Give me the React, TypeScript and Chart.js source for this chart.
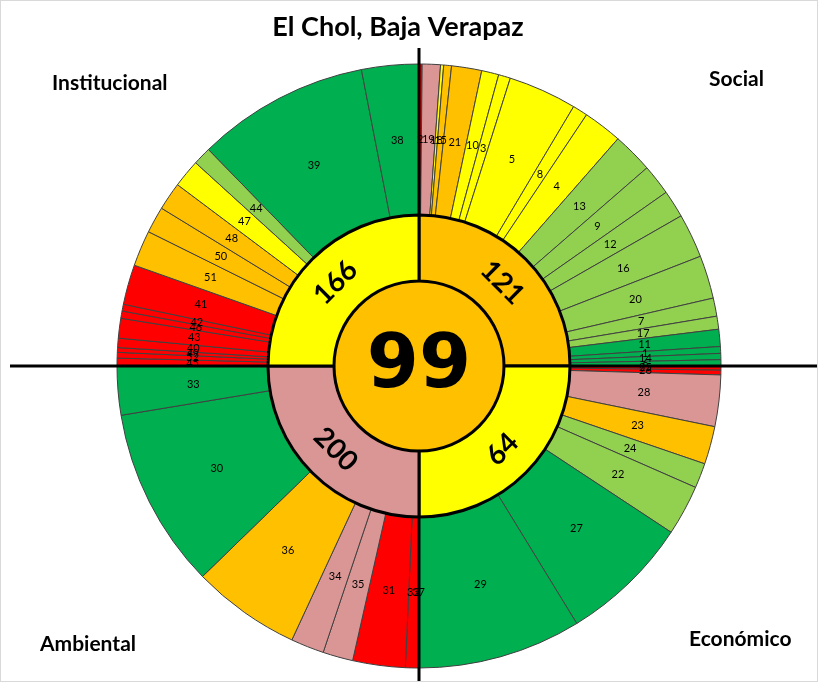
import React, { useEffect, useRef } from "react";
import { Chart, registerables } from "chart.js";

Chart.register(...registerables);

const TITLE = "El Chol, Baja Verapaz";
const OVERALL_SCORE = 99;

// Dimensions (clockwise from 12 o'clock)
const dimensionNames = ["Social", "Económico", "Ambiental", "Institucional"];
const dimensionScores = [121, 64, 200, 166];
const dimensionStatus = ["naranja", "amarillo", "rosado", "amarillo"];
const overallStatus = "naranja";

// Social indicators (angular share, degrees)
const socialIds = ["2", "19", "18", "15", "21", "10", "3", "5", "8", "4", "13", "9", "12", "16", "20", "7", "17", "11", "1", "14", "6"];
const socialSpans = [0.6, 3.5, 0.6, 1.5, 5.8, 3.3, 2.3, 13.2, 2.9, 7.5, 7.8, 5.9, 5.3, 8.5, 8.3, 3.5, 2.5, 3.3, 1.3, 1.2, 1.2];
const socialStatus = ["rojo", "rosado", "amarillo", "naranja", "naranja", "amarillo", "amarillo", "amarillo", "amarillo", "amarillo", "verdeClaro", "verdeClaro", "verdeClaro", "verdeClaro", "verdeClaro", "verdeClaro", "verdeClaro", "verde", "verde", "verde", "verde"];

// Económico indicators
const economicoIds = ["25", "26", "28", "23", "24", "22", "27", "29"];
const economicoSpans = [0.8, 0.9, 9.9, 7.3, 4.8, 9.7, 25.1, 31.5];
const economicoStatus = ["rojo", "rojo", "rosado", "naranja", "verdeClaro", "verdeClaro", "verde", "verde"];

// Ambiental indicators
const ambientalIds = ["37", "32", "31", "35", "34", "36", "30", "33"];
const ambientalSpans = [0.2, 2.4, 10.1, 5.8, 6.4, 20.9, 34.8, 9.4];
const ambientalStatus = ["rojo", "rojo", "rojo", "rosado", "rosado", "naranja", "verde", "verde"];

// Institucional indicators
const institucionalIds = ["45", "52", "49", "40", "43", "46", "42", "41", "51", "50", "48", "47", "44", "39", "38"];
const institucionalSpans = [1.5, 1.1, 0.9, 1.8, 3.8, 1.4, 1.3, 7.7, 6.9, 5.1, 5.4, 5.4, 3.5, 33.2, 11.0];
const institucionalStatus = ["rojo", "rojo", "rojo", "rojo", "rojo", "rojo", "rojo", "rojo", "naranja", "naranja", "naranja", "amarillo", "verdeClaro", "verde", "verde"];

const STATUS_COLORS: Record<string, string> = {
  rojo: "#FF0000",
  rosado: "#DA9694",
  naranja: "#FFC000",
  amarillo: "#FFFF00",
  verdeClaro: "#92D050",
  verde: "#00B050",
};

const FONT = "Lato, 'Open Sans', sans-serif";

export default function App() {
  const ref = useRef<HTMLCanvasElement>(null);

  useEffect(() => {
    document.body.style.margin = "0";
    const canvas = ref.current;
    if (!canvas) return;

    const outerIds = [...socialIds, ...economicoIds, ...ambientalIds, ...institucionalIds];
    const outerSpans = [...socialSpans, ...economicoSpans, ...ambientalSpans, ...institucionalSpans];
    const outerColors = [...socialStatus, ...economicoStatus, ...ambientalStatus, ...institucionalStatus].map((s) => STATUS_COLORS[s]);
    const sum = (a: number[]) => a.reduce((x, y) => x + y, 0);
    const dimensionSpans = [sum(socialSpans), sum(economicoSpans), sum(ambientalSpans), sum(institucionalSpans)];

    const overlay = {
      id: "overlay",
      afterDatasetsDraw(chart: any) {
        const ctx: CanvasRenderingContext2D = chart.ctx;
        const outerMeta = chart.getDatasetMeta(0);
        const midMeta = chart.getDatasetMeta(1);
        const centerMeta = chart.getDatasetMeta(2);
        const c = centerMeta.data[0];
        const cx = c.x;
        const cy = c.y;

        ctx.save();
        // cross lines
        ctx.strokeStyle = "#000";
        ctx.lineWidth = 3;
        ctx.beginPath();
        ctx.moveTo(cx, 48);
        ctx.lineTo(cx, chart.height);
        ctx.moveTo(10, cy);
        ctx.lineTo(chart.width, cy);
        ctx.stroke();
        ctx.restore();

        // centre disc and dimension ring on top of the lines
        ctx.save();
        c.draw(ctx);
        ctx.restore();
        midMeta.data.forEach((a: any) => {
          ctx.save();
          a.draw(ctx);
          ctx.restore();
        });

        ctx.save();
        ctx.fillStyle = "#000";
        ctx.textAlign = "center";
        ctx.textBaseline = "middle";

        // indicator labels
        ctx.font = `11px ${FONT}`;
        outerMeta.data.forEach((a: any, i: number) => {
          const p = a.getCenterPoint();
          ctx.fillText(outerIds[i], p.x, p.y);
        });

        // dimension scores (rotated)
        ctx.font = `bold 28px ${FONT}`;
        midMeta.data.forEach((a: any, i: number) => {
          const p = a.getCenterPoint();
          const mid = (a.startAngle + a.endAngle) / 2;
          let rot = mid + Math.PI / 2;
          while (rot > Math.PI / 2) rot -= Math.PI;
          while (rot < -Math.PI / 2) rot += Math.PI;
          ctx.save();
          ctx.translate(p.x, p.y);
          ctx.rotate(rot);
          ctx.fillText(String(dimensionScores[i]), 0, 0);
          ctx.restore();
        });

        // overall score
        ctx.font = `bold 75px 'DejaVu Sans', ${FONT}`;
        ctx.fillText(String(OVERALL_SCORE), cx, cy + 2);

        // title
        ctx.font = `bold 27px ${FONT}`;
        ctx.fillText(TITLE, 398, 27);

        // quadrant names
        ctx.font = `bold 21px ${FONT}`;
        ctx.textAlign = "left";
        ctx.fillText(dimensionNames[3], 52, 83);
        ctx.fillText(dimensionNames[0], 709, 79);
        ctx.fillText(dimensionNames[2], 40, 644);
        ctx.fillText(dimensionNames[1], 689, 639);
        ctx.restore();

        // chart frame
        ctx.save();
        ctx.strokeStyle = "#D9D9D9";
        ctx.lineWidth = 1;
        ctx.strokeRect(0.5, 0.5, chart.width - 1, chart.height - 1);
        ctx.restore();
      },
    };

    const chart = new Chart(canvas, {
      type: "doughnut",
      data: {
        labels: outerIds,
        datasets: [
          {
            data: outerSpans,
            backgroundColor: outerColors,
            borderColor: "#404040",
            borderWidth: 1,
            weight: 151,
          } as any,
          {
            data: dimensionSpans,
            backgroundColor: dimensionStatus.map((s) => STATUS_COLORS[s]),
            borderColor: "#000",
            borderWidth: 3,
            weight: 66,
          } as any,
          {
            data: [sum(dimensionSpans)],
            backgroundColor: [STATUS_COLORS[overallStatus]],
            borderWidth: 0,
            weight: 85,
          } as any,
        ],
      },
      options: {
        responsive: false,
        animation: false,
        events: [],
        cutout: 0,
        radius: 302,
        layout: { padding: { left: 117, right: 97, top: 64, bottom: 14 } },
        plugins: {
          legend: { display: false },
          tooltip: { enabled: false },
          title: { display: false },
        },
      } as any,
      plugins: [overlay],
    });

    return () => chart.destroy();
  }, []);

  return (
    <div style={{ position: "absolute", left: 0, top: 0, width: 818, height: 682, background: "#fff" }}>
      <canvas ref={ref} width={818} height={682} style={{ display: "block", width: 818, height: 682 }} />
    </div>
  );
}
